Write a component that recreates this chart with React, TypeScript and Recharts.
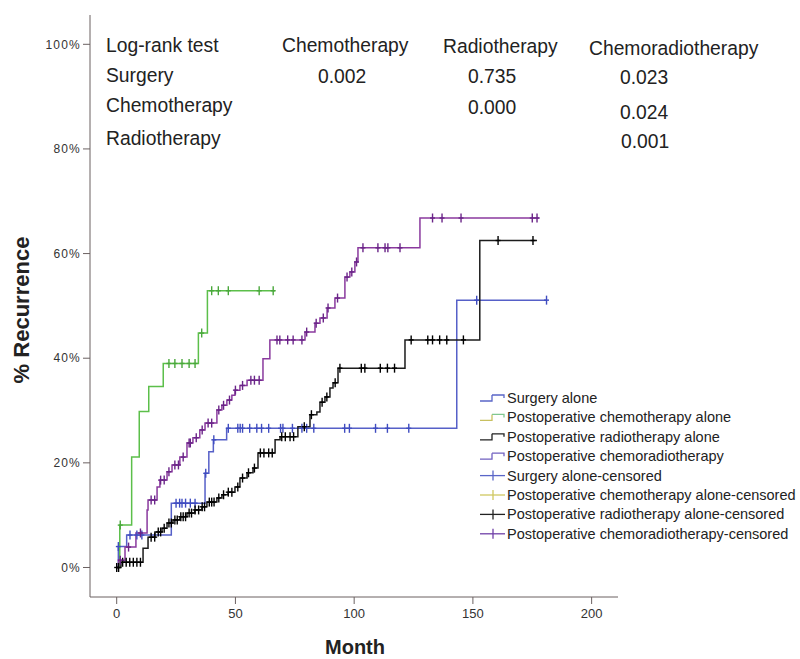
import React from 'react';
import { ComposedChart, Line, Scatter, XAxis, YAxis } from 'recharts';

const FONT = '"Liberation Sans", Arial, Helvetica, sans-serif';

const xTicks = [0, 50, 100, 150, 200];
const yTicks = [0, 20, 40, 60, 80, 100];

// Surgery alone
const surgeryMonths = [0, 0.7, 4.2, 23, 37.2, 38.8, 40.7, 46.3, 143.2, 181];
const surgeryPct = [0, 4.0, 6.2, 12.3, 18.0, 22.1, 24.4, 26.6, 51.1, 51.1];
const surgeryCensored = [0.7, 5.6, 8.5, 10.6, 25, 26.5, 27.5, 29, 31, 33, 37.5, 40.9, 47, 51, 52, 53, 56, 59, 61, 64, 69, 70, 74, 78, 80, 83, 96, 98, 109, 114, 123, 151.6, 181];

// Postoperative chemotherapy alone
const chemoMonths = [0, 1.3, 6.3, 9.5, 13.5, 19.6, 34.4, 38.2, 66.7];
const chemoPct = [0, 8.1, 21.1, 29.8, 34.6, 39.0, 44.8, 52.9, 52.9];
const chemoCensored = [1.5, 22, 24.5, 27.5, 30.5, 33, 35.8, 40, 42.8, 47, 60, 65.9];

// Postoperative radiotherapy alone
const radioMonths = [0, 1.8, 11.1, 13.2, 16.1, 19.1, 21.2, 23.7, 26.6, 29.6, 32.9, 35.9, 38, 42.2, 44.3, 46.9, 49.8, 51.9, 54.9, 57.4, 59.5, 66.7, 68.8, 76.3, 81.4, 84.3, 85.6, 87.7, 89.8, 91.1, 93.2, 121.4, 152.9, 177];
const radioPct = [0, 1.0, 3.7, 5.8, 6.8, 7.5, 8.5, 9.1, 9.7, 10.4, 11.0, 11.6, 12.5, 13.3, 13.9, 14.4, 15.4, 17.1, 18.1, 19.0, 21.9, 24.4, 25.0, 26.9, 29.2, 29.7, 31.6, 32.6, 34.3, 35.3, 38.1, 43.5, 62.5, 62.5];
const radioCensored = [0, 0.8, 2.5, 4, 5.5, 7, 8.5, 10, 14.5, 16, 17.5, 18.5, 20, 22, 23, 24.5, 25.5, 27, 28, 29, 30.5, 31.5, 33, 34.5, 36, 37, 39, 40, 41, 43, 45, 47, 48.5, 51, 53, 55.5, 58, 60.5, 62, 64, 65.5, 69.5, 71, 73, 74.5, 79, 82, 86.5, 88.5, 92, 94, 103, 104.5, 111, 114, 117, 124, 131, 133, 136, 139, 146, 160.6, 175.3];

// Postoperative chemoradiotherapy
const chemoradMonths = [0, 0.8, 3.5, 8.1, 12.8, 13.2, 17, 18.2, 21.2, 23.3, 26.6, 29.6, 32.1, 35, 37.2, 42.2, 44.3, 46.4, 48.5, 49.8, 51.9, 54.9, 61.6, 64.5, 79.3, 83.5, 85.6, 88.6, 91.9, 96.1, 98.2, 100.3, 101.6, 127.7, 178];
const chemoradPct = [0, 1.4, 3.9, 6.6, 11.0, 12.9, 15.4, 16.7, 18.3, 19.6, 21.1, 23.8, 24.8, 26.3, 27.6, 30.1, 31.0, 32.0, 32.9, 33.9, 34.8, 35.8, 39.9, 43.5, 45.0, 46.7, 47.7, 49.6, 51.5, 55.5, 56.5, 58.4, 61.1, 66.8, 66.8];
const chemoradCensored = [1.5, 5, 10, 14.5, 16, 18.5, 20, 22, 24.5, 26, 28, 30.5, 31, 33.5, 36, 38.5, 40, 43, 45, 47.5, 50, 53, 56.5, 58, 60, 67.5, 68.7, 72, 74.3, 78, 80, 84, 87, 89, 93, 97, 99, 101, 103.7, 110, 113, 114.2, 119.3, 133, 137, 145, 175, 177];

const legendLabels = [
  'Surgery alone',
  'Postoperative chemotherapy alone',
  'Postoperative radiotherapy alone',
  'Postoperative chemoradiotherapy',
  'Surgery alone-censored',
  'Postoperative chemotherapy alone-censored',
  'Postoperative radiotherapy alone-censored',
  'Postoperative chemoradiotherapy-censored',
];

const tableHeader = ['Log-rank test', 'Chemotherapy', 'Radiotherapy', 'Chemoradiotherapy'];
const tableRows = ['Surgery', 'Chemotherapy', 'Radiotherapy'];
const tableValues = [
  ['0.002', '0.735', '0.023'],
  ['', '0.000', '0.024'],
  ['', '', '0.001'],
];

const C_SURG = '#5660c8';
const C_CHEMO = '#5cbf4a';
const C_RADIO = '#1c1c1c';
const C_CRAD = '#8a3a9e';

const toSteps = (months: number[], pct: number[]) => months.map((m, i) => ({ m, p: pct[i] }));
const toCensor = (months: number[], pct: number[], cens: number[]) =>
  cens.map((t) => {
    let v = pct[0];
    for (let i = 0; i < months.length; i++) if (months[i] <= t) v = pct[i];
    return { m: t, p: v };
  });

const censorShape = (color: string) => (props: any) => {
  const { cx, cy } = props;
  if (cx == null || cy == null) return <g />;
  return (
    <g>
      <line x1={cx} x2={cx} y1={cy - 4.5} y2={cy + 4.5} stroke={color} strokeWidth={1.4} />
      <line x1={cx - 2.5} x2={cx + 2.5} y1={cy} y2={cy} stroke={color} strokeWidth={1.4} />
    </g>
  );
};

const series = [
  { months: surgeryMonths, pct: surgeryPct, cens: surgeryCensored, color: C_SURG, ccolor: '#3f4cc0' },
  { months: chemoMonths, pct: chemoPct, cens: chemoCensored, color: C_CHEMO, ccolor: '#4aa83c' },
  { months: radioMonths, pct: radioPct, cens: radioCensored, color: C_RADIO, ccolor: '#000000' },
  { months: chemoradMonths, pct: chemoradPct, cens: chemoradCensored, color: C_CRAD, ccolor: '#6a2488' },
];

const legendIconColors = [
  ['#5a66c8', '#5a66c8'],
  ['#c8c060', '#80c890'],
  ['#222222', '#222222'],
  ['#7060c0', '#7060c0'],
  ['#5a66c8'],
  ['#d0c860'],
  ['#222222'],
  ['#7040a8'],
];

export default function App() {
  const axisColor = '#6b6161';
  return (
    <div style={{ position: 'absolute', left: 0, top: 0, width: 800, height: 659, background: '#fff' }}>
      <ComposedChart width={800} height={659} margin={{ top: 15, right: 182, bottom: 0, left: 0 }}>
        <XAxis
          type="number"
          dataKey="m"
          domain={[-11.24, 211.1]}
          ticks={xTicks}
          interval={0}
          allowDataOverflow
          height={62}
          tickSize={7}
          tickMargin={5}
          stroke={axisColor}
          tick={{ fontSize: 13, fill: '#333', fontFamily: FONT }}
        />
        <YAxis
          type="number"
          dataKey="p"
          domain={[-5.64, 105.6]}
          ticks={yTicks}
          interval={0}
          allowDataOverflow
          width={90}
          tickSize={7}
          tickMargin={2}
          stroke={axisColor}
          tickFormatter={(v: number) => `${v}%`}
          tick={{ fontSize: 12, fill: '#333', fontFamily: FONT, letterSpacing: 1.2 }}
        />
        {series.map((s, i) => (
          <Line
            key={'l' + i}
            data={toSteps(s.months, s.pct)}
            dataKey="p"
            type="stepAfter"
            stroke={s.color}
            strokeWidth={1.5}
            dot={false}
            activeDot={false}
            isAnimationActive={false}
          />
        ))}
        {series.map((s, i) => (
          <Scatter
            key={'s' + i}
            data={toCensor(s.months, s.pct, s.cens)}
            dataKey="p"
            shape={censorShape(s.ccolor)}
            isAnimationActive={false}
          />
        ))}
      </ComposedChart>
      <svg
        width={800}
        height={659}
        style={{ position: 'absolute', left: 0, top: 0, pointerEvents: 'none' }}
        fontFamily={FONT}
      >
        {/* Log-rank table */}
        <g fontSize={19.3} fill="#222">
          <text x={106} y={52}>{tableHeader[0]}</text>
          <text x={282} y={52}>{tableHeader[1]}</text>
          <text x={443} y={53}>{tableHeader[2]}</text>
          <text x={589} y={55}>{tableHeader[3]}</text>
          <text x={106} y={82}>{tableRows[0]}</text>
          <text x={106} y={112}>{tableRows[1]}</text>
          <text x={106} y={145}>{tableRows[2]}</text>
          <text x={318} y={83}>{tableValues[0][0]}</text>
          <text x={468} y={83}>{tableValues[0][1]}</text>
          <text x={620} y={84}>{tableValues[0][2]}</text>
          <text x={468} y={114}>{tableValues[1][1]}</text>
          <text x={620} y={119}>{tableValues[1][2]}</text>
          <text x={621} y={148}>{tableValues[2][2]}</text>
        </g>
        {/* axis titles */}
        <text x={355} y={654} textAnchor="middle" fontWeight="bold" fontSize={20} fill="#222">Month</text>
        <text transform="translate(29,310) rotate(-90)" textAnchor="middle" fontWeight="bold" fontSize={22} fill="#222">% Recurrence</text>
        {/* legend */}
        {legendLabels.map((label, i) => {
          const y = 398 + i * 19.4;
          const cols = legendIconColors[i];
          return (
            <g key={label}>
              {i < 4 ? (
                <g fill="none" strokeWidth={1.3}>
                  <path d={`M480,${y + 3} H492 V${y - 3}`} stroke={cols[0]} />
                  <path d={`M492,${y - 3} H504 V${y}`} stroke={cols[1]} />
                </g>
              ) : (
                <g strokeWidth={1.3} stroke={cols[0]}>
                  <line x1={480} x2={505} y1={y} y2={y} />
                  <line x1={493} x2={493} y1={y - 5} y2={y + 5} />
                </g>
              )}
              <text x={507} y={y + 5} fontSize={14.5} fill="#222">{label}</text>
            </g>
          );
        })}
      </svg>
    </div>
  );
}
